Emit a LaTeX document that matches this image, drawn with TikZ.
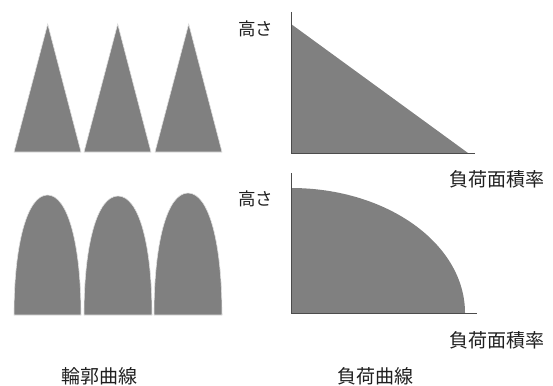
\documentclass[tikz,border=0pt]{standalone}
\usepackage{fontspec}
\newfontfamily\jpfont{Noto Sans CJK JP}
\begin{document}
\begin{tikzpicture}[x=1pt,y=-1pt,
  shapefill/.style={fill=black!50, draw=black!12, line width=0.6pt},
  axisline/.style={draw=black!70, line width=1pt},
  lbl/.style={font=\jpfont\fontsize{19}{19}\selectfont, text=black!88, inner sep=0pt},
  lblsmall/.style={font=\jpfont\fontsize{17.5}{17.5}\selectfont, text=black!88, inner sep=0pt}]
\useasboundingbox (0,0) rectangle (553,385);
% top row triangles
\path[shapefill] (14,152) -- (47.7,24) -- (81,152) -- cycle;
\path[shapefill] (84,152) -- (117.7,24) -- (151,152) -- cycle;
\path[shapefill] (155,152) -- (188.7,24) -- (222,152) -- cycle;
% bottom row arches
\path[shapefill] (14,315) .. controls (14,245) and (27,195) .. (47.5,195) .. controls (68,195) and (81,245) .. (81,315) -- cycle;
\path[shapefill] (84,315) .. controls (84,245) and (97,196) .. (118,196) .. controls (139,196) and (152,245) .. (152,315) -- cycle;
\path[shapefill] (154,315) .. controls (154,243) and (167,193) .. (188,193) .. controls (209,193) and (222,243) .. (222,315) -- cycle;
% top load curve
\fill[black!50] (291,153) -- (291,24) -- (468,153) -- cycle;
\coordinate (ya1) at (291,12);
\coordinate (o1) at (291,153);
\coordinate (xa1) at (475,153);
\draw[axisline] (ya1) -- (o1) -- (xa1);
% bottom load curve
\fill[black!50] (291,313) -- (291,188) .. controls (387.1,188) and (465,244) .. (465,313) -- cycle;
\coordinate (ya2) at (291,173);
\coordinate (o2) at (291,313);
\coordinate (xa2) at (477,313);
\draw[axisline] (ya2) -- (o2) -- (xa2);
% labels
\node[lblsmall] (h1) at (255.5,29) {高さ};
\node[lblsmall] (h2) at (255.5,199) {高さ};
\node[lbl] (x1) at (496.5,179) {負荷面積率};
\node[lbl] (x2) at (496.5,340) {負荷面積率};
\node[lbl] (c1) at (99,376) {輪郭曲線};
\node[lbl] (c2) at (375,376) {負荷曲線};
\end{tikzpicture}
\end{document}
